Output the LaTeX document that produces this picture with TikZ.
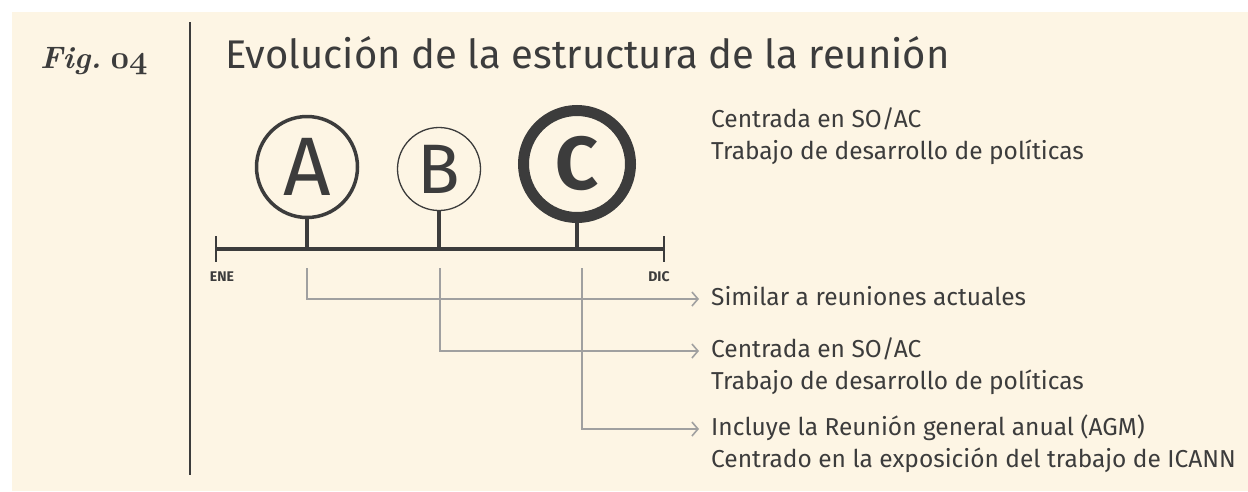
\documentclass[tikz,border=0pt]{standalone}
\usepackage{fontspec}
\usepackage{graphicx}
\usetikzlibrary{arrows.meta}
\newfontfamily\sansfont{Fira Sans}
\definecolor{paper}{RGB}{253,245,228}
\definecolor{ink}{RGB}{60,60,60}
\definecolor{guide}{RGB}{160,160,160}
\tikzset{
  caption/.style={inner sep=0pt,anchor=base west,text=ink,align=left,
    font=\sansfont\fontsize{24.5}{32}\selectfont},
  conn/.style={guide,line width=1.6pt,-{Straight Barb[length=6pt,width=14pt,line width=1.6pt]}},
  meeting/.style={circle,draw=ink,text=ink,inner sep=0pt},
  stem/.style={ink,line width=4pt},
}
\begin{document}
\begin{tikzpicture}[x=1pt,y=-1pt]
\useasboundingbox (0,0) rectangle (1248,491);
\fill[white] (0,0) rectangle (1248,491);
\fill[paper] (12,12) rectangle (1248,491);

% heading
\node[inner sep=0pt,anchor=base west,text=ink] (fig) at (40,68)
  {\bfseries\itshape\fontsize{31}{31}\selectfont Fig.\hspace{0.3em}\scalebox{1.3}{\fontencoding{OML}\fontfamily{cmm}\fontseries{b}\fontshape{it}\fontsize{24.88}{24.88}\selectfont 04}};
\draw[ink,line width=2pt] (190,22) -- (190,475);
\node[inner sep=0pt,anchor=base west,text=ink] (title) at (225,68)
  {\sansfont\fontsize{40}{40}\selectfont Evolución de la estructura de la reunión};

% timeline
\coordinate (ene) at (216,249);
\coordinate (dic) at (664,249);
\draw[ink,line width=4pt] (ene) -- (dic);
\draw[ink,line width=1.5pt] ([yshift=13pt]ene) -- ([yshift=-13pt]ene);
\draw[ink,line width=1.5pt] ([yshift=13pt]dic) -- ([yshift=-13pt]dic);
\node[text=ink,inner sep=0pt] (ene label) at (222,277) {\sansfont\bfseries\fontsize{14}{14}\selectfont ENE};
\node[text=ink,inner sep=0pt] (dic label) at (659,277) {\sansfont\bfseries\fontsize{14}{14}\selectfont DIC};

% meetings
\node[meeting,line width=3.5pt,minimum size=101pt] (A) at (307,167)
  {\sansfont\fontsize{83}{83}\selectfont A};
\node[meeting,line width=1.3pt,minimum size=83pt] (B) at (439,169)
  {\sansfont\fontsize{70}{70}\selectfont B};
\node[meeting,line width=11pt,minimum size=107pt] (C) at (577,164)
  {\sansfont\bfseries\fontsize{75}{75}\selectfont C};
\draw[stem] (A.south) -- (A.south |- ene);
\draw[stem] (B.south) -- (B.south |- ene);
\draw[stem] (C.south) -- (C.south |- ene);

% captions (base = last line)
\node[caption] (top) at (711,159) {Centrada en SO/AC\\Trabajo de desarrollo de políticas};
\node[caption] (capA) at (711,305) {Similar a reuniones actuales};
\node[caption] (capB) at (711,389) {Centrada en SO/AC\\Trabajo de desarrollo de políticas};
\node[caption] (capC) at (711,467) {Incluye la Reunión general anual (AGM)\\Centrado en la exposición del trabajo de ICANN};

\coordinate (tA) at (307,268);
\coordinate (tB) at (440,268);
\coordinate (tC) at (582,268);
\draw[conn] (tA) |- ([xshift=-12pt,yshift=6pt]capA.base west);
\draw[conn] (tB) |- ([xshift=-12pt,yshift=38pt]capB.base west);
\draw[conn] (tC) |- ([xshift=-12pt,yshift=38pt]capC.base west);
\end{tikzpicture}
\end{document}
